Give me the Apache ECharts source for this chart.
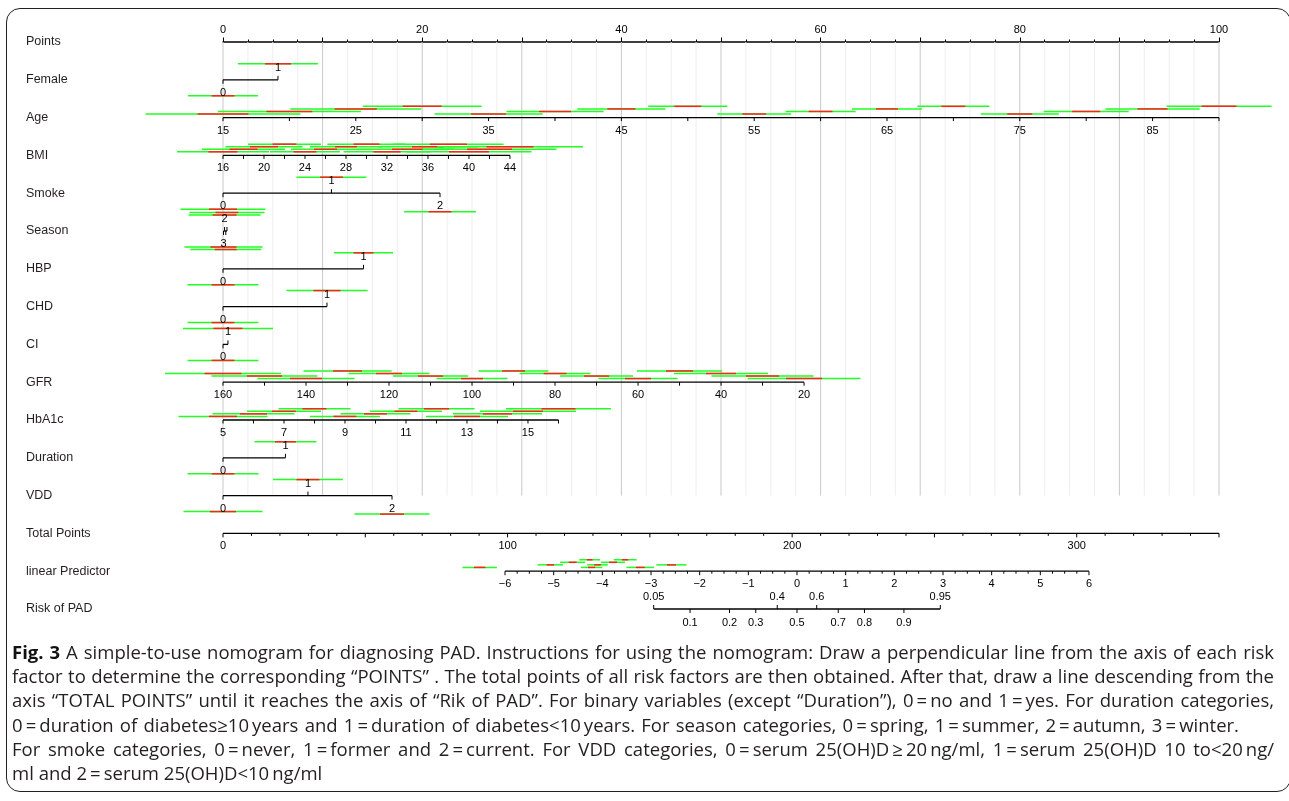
<!DOCTYPE html>
<html><head><meta charset="utf-8">
<script src="https://cdn.jsdelivr.net/npm/echarts@6/dist/echarts.min.js"></script>
<style>
html,body{margin:0;padding:0;background:#fff;}
#wrap{position:relative;width:1289px;height:801px;overflow:hidden;}
#chart{position:absolute;left:0;top:0;width:1289px;height:801px;}
#box{position:absolute;left:6px;top:8px;width:1285px;height:784px;border:1.6px solid #231f20;border-radius:14px;box-sizing:border-box;pointer-events:none;}
#caption{position:absolute;left:12px;top:640px;font-family:'Open Sans',Lato,sans-serif;font-size:16.5px;line-height:24.2px;color:#231f20;}
#caption div{white-space:nowrap;height:24.2px;}
#caption span.ln{display:inline-block;white-space:nowrap;}
#caption b{font-weight:700;color:#111;}
</style></head>
<body><div id="wrap"><div id="chart"></div><div id="box"></div>
<div id="caption">
<div data-w="1262"><span class="ln"><b>Fig. 3</b> A simple-to-use nomogram for diagnosing PAD. Instructions for using the nomogram: Draw a perpendicular line from the axis of each risk</span></div>
<div data-w="1262"><span class="ln">factor to determine the corresponding “POINTS” . The total points of all risk factors are then obtained. After that, draw a line descending from the</span></div>
<div data-w="1262"><span class="ln">axis “TOTAL POINTS” until it reaches the axis of “Rik of PAD”. For binary variables (except “Duration”), 0&#8201;=&#8201;no and 1&#8201;=&#8201;yes. For duration categories,</span></div>
<div data-w="1227"><span class="ln">0&#8201;=&#8201;duration of diabetes≥10&#8201;years and 1&#8201;=&#8201;duration of diabetes&lt;10&#8201;years. For season categories, 0&#8201;=&#8201;spring, 1&#8201;=&#8201;summer, 2&#8201;=&#8201;autumn, 3&#8201;=&#8201;winter.</span></div>
<div data-w="1262"><span class="ln">For smoke categories, 0&#8201;=&#8201;never, 1&#8201;=&#8201;former and 2&#8201;=&#8201;current. For VDD categories, 0&#8201;=&#8201;serum 25(OH)D&#8201;≥&#8201;20&#8201;ng/ml, 1&#8201;=&#8201;serum 25(OH)D 10 to&lt;20&#8201;ng/</span></div>
<div><span class="ln">ml and 2&#8201;=&#8201;serum 25(OH)D&lt;10&#8201;ng/ml</span></div>
</div></div>
<script>
// ---------------- data ----------------
const rowNames = ['Points','Female','Age','BMI','Smoke','Season','HBP','CHD','CI','GFR','HbA1c','Duration','VDD','Total Points','linear Predictor','Risk of PAD'];
const pointsGrid = [0,2.5,5,7.5,10,12.5,15,17.5,20,22.5,25,27.5,30,32.5,35,37.5,40,42.5,45,47.5,50,52.5,55,57.5,60,62.5,65,67.5,70,72.5,75,77.5,80,82.5,85,87.5,90,92.5,95,97.5,100];

// categorical variables: points per level, red (inner) and green (outer) half-widths in points
const femaleLevels = ['0','1'];
const femalePoints = [0, 5.52];
const femaleRed = [1.15, 1.31];
const femaleGreen = [3.51, 4.02];

const smokeLevels = ['0','1','2'];
const smokePoints = [0, 10.89, 21.79];
const smokeRed = [1.41, 1.15, 1.15];
const smokeGreen = [4.27, 3.51, 3.61];

const seasonLevels = ['0','1','2','3'];
const seasonPoints = [0.28, 0.40, 0.16, 0.05];
const seasonLabelShown = [false, false, true, true];
const seasonRed = [1.10, 1.15, 1.20, 1.31];
const seasonGreen = [3.56, 3.77, 3.61, 3.92];

const hbpLevels = ['0','1'];
const hbpPoints = [0, 14.11];
const hbpRed = [1.15, 1.00];
const hbpGreen = [3.56, 2.96];

const chdLevels = ['0','1'];
const chdPoints = [0, 10.44];
const chdRed = [1.15, 1.36];
const chdGreen = [3.56, 4.07];

const ciLevels = ['0','1'];
const ciPoints = [0, 0.50];
const ciRed = [1.15, 1.46];
const ciGreen = [3.56, 4.52];

const durationLevels = ['0','1'];
const durationPoints = [0, 6.27];
const durationRed = [1.15, 1.05];
const durationGreen = [3.56, 3.11];

const vddLevels = ['0','1','2'];
const vddPoints = [0, 8.53, 16.97];
const vddRed = [1.31, 1.15, 1.20];
const vddGreen = [3.97, 3.51, 3.77];

// continuous variables
const ageValues = [15,20,25,30,35,40,45,50,55,60,65,70,75,80,85,90];
const ageLabels = [15,25,35,45,55,65,75,85];
const ageRed = [2.56,2.31,2.11,1.96,1.76,1.61,1.41,1.36,1.20,1.20,1.10,1.20,1.26,1.41,1.51,1.76];
const ageGreen = [7.78,7.18,6.58,5.97,5.42,4.87,4.42,3.97,3.71,3.51,3.51,3.61,3.92,4.27,4.72,5.27];

const bmiValues = [16,18,20,22,24,26,28,30,32,34,36,38,40,42,44];
const bmiLabels = [16,20,24,28,32,36,40,44];
const bmiRed = [1.46,1.41,1.41,1.20,1.15,1.15,1.10,1.31,1.36,1.56,1.61,1.86,2.01,2.26,2.36];
const bmiGreen = [4.62,4.17,3.87,3.66,3.51,3.46,3.61,3.92,4.37,4.77,5.02,5.52,6.28,6.73,7.33];

const gfrValues = [160,150,140,130,120,110,100,90,80,70,60,50,40,30,20];
const gfrLabels = [160,140,120,100,80,60,40,20];
const gfrRed = [1.86,1.76,1.61,1.46,1.31,1.26,1.10,1.15,1.15,1.26,1.31,1.36,1.51,1.66,1.81];
const gfrGreen = [5.82,5.32,4.87,4.42,4.07,3.77,3.56,3.51,3.56,3.66,3.97,4.27,4.72,5.12,5.67];

const hbValues = [5,6,7,8,9,10,11,12,13,14,15,16];
const hbLabels = [5,7,9,11,13,15];
const hbRed = [1.41,1.36,1.20,1.20,1.15,1.15,1.15,1.26,1.31,1.46,1.51,1.71];
const hbGreen = [4.47,4.12,3.71,3.61,3.51,3.51,3.61,3.82,4.12,4.47,4.82,5.27];

const totalLabels = [0,100,200,300];
const totalMax = 350;

const lpLabels = [-6,-5,-4,-3,-2,-1,0,1,2,3,4,5,6];
const lpCenters = [-6.52,-5.07,-4.61,-4.26,-4.22,-4.10,-3.78,-3.53,-3.22,-2.58];
const lpRed = [0.58,0.38,0.40,0.28,0.36,0.33,0.41,0.32,0.45,0.46];
const lpGreen = [1.73,1.27,1.26,1.04,1.08,1.04,1.20,1.15,1.38,1.51];

const riskValues = [0.05,0.1,0.2,0.3,0.4,0.5,0.6,0.7,0.8,0.9,0.95];
const riskAbove = [0.05,0.4,0.6,0.95];

// ---------------- scales (value -> points) ----------------
const ageToPts = v => (v - 15) * 100 / 75;
const bmiToPts = v => (v - 16) * 1.029;
const gfrToPts = v => (160 - v) * 0.4167;
const hbToPts = v => (v - 5) * 3.062;
const totalToPts = t => t * 100 / totalMax;
const lpToPts = l => 57.63 + 4.886 * l;
const riskToPts = p => lpToPts(Math.log(p / (1 - p)));

// ---------------- build drawing items ----------------
const gridItems = pointsGrid.map(v => ({x: v, major: v % 10 === 0}));
const axisLines = [], ticks = [], labels = [], segs = [];
const R = name => rowNames.indexOf(name);

function addContinuous(name, values, labelVals, toPts, red, green) {
  const row = R(name);
  const pts = values.map(toPts);
  axisLines.push({a: Math.min(...pts), b: Math.max(...pts), row: row});
  pts.forEach(p => ticks.push({x: p, row: row, dir: 1, len: 3.5}));
  labelVals.forEach(v => labels.push({x: toPts(v), row: row, dy: 13, text: String(v)}));
  const order = values.map((v, i) => i).sort((i, j) => values[i] - values[j]);
  order.forEach((i, rank) => segs.push({c: pts[i], r: red[i], g: green[i], row: row, dy: -(3.6 + 2.55 * (rank % 4))}));
}
function addCategorical(name, levels, points, red, green, shown) {
  const row = R(name);
  axisLines.push({a: Math.min(...points), b: Math.max(...points), row: row});
  const order = points.map((v, i) => i).sort((i, j) => points[i] - points[j]);
  order.forEach((i, rank) => {
    const side = rank % 2 === 0 ? 1 : -1;
    const stack = Math.floor(rank / 2);
    ticks.push({x: points[i], row: row, dir: side, len: 4});
    if (!shown || shown[i]) labels.push({x: points[i], row: row, dy: side > 0 ? 13 : -12, text: levels[i]});
    segs.push({c: points[i], r: red[i], g: green[i], row: row, dy: side * (16 + 2.5 * stack)});
  });
}

addCategorical('Female', femaleLevels, femalePoints, femaleRed, femaleGreen);
addContinuous('Age', ageValues, ageLabels, ageToPts, ageRed, ageGreen);
addContinuous('BMI', bmiValues, bmiLabels, bmiToPts, bmiRed, bmiGreen);
addCategorical('Smoke', smokeLevels, smokePoints, smokeRed, smokeGreen);
addCategorical('Season', seasonLevels, seasonPoints, seasonRed, seasonGreen, seasonLabelShown);
addCategorical('HBP', hbpLevels, hbpPoints, hbpRed, hbpGreen);
addCategorical('CHD', chdLevels, chdPoints, chdRed, chdGreen);
addCategorical('CI', ciLevels, ciPoints, ciRed, ciGreen);
addContinuous('GFR', gfrValues, gfrLabels, gfrToPts, gfrRed, gfrGreen);
addContinuous('HbA1c', hbValues, hbLabels, hbToPts, hbRed, hbGreen);
addCategorical('Duration', durationLevels, durationPoints, durationRed, durationGreen);
addCategorical('VDD', vddLevels, vddPoints, vddRed, vddGreen);

// Total points axis
(function () {
  const row = R('Total Points');
  axisLines.push({a: totalToPts(0), b: totalToPts(totalMax), row: row});
  for (let t = 0; t <= totalMax; t += 10) ticks.push({x: totalToPts(t), row: row, dir: 1, len: t % 50 === 0 ? 4 : 2.5});
  totalLabels.forEach(t => labels.push({x: totalToPts(t), row: row, dy: 13, text: String(t)}));
})();
// Linear predictor axis
(function () {
  const row = R('linear Predictor');
  axisLines.push({a: lpToPts(lpLabels[0]), b: lpToPts(lpLabels[lpLabels.length - 1]), row: row});
  for (let l = lpLabels[0]; l <= lpLabels[lpLabels.length - 1] + 1e-9; l += 0.25) ticks.push({x: lpToPts(l), row: row, dir: 1, len: Math.abs(l - Math.round(l)) < 1e-6 ? 4 : 2.5});
  lpLabels.forEach(l => labels.push({x: lpToPts(l), row: row, dy: 13, text: (l < 0 ? '\u2212' + (-l) : String(l))}));
  const order = lpCenters.map((v, i) => i).sort((i, j) => lpCenters[i] - lpCenters[j]);
  order.forEach((i, rank) => segs.push({c: lpToPts(lpCenters[i]), r: lpRed[i], g: lpGreen[i], row: row, dy: -(3.8 + 2.55 * (rank % 4))}));
})();
// Risk axis
(function () {
  const row = R('Risk of PAD');
  axisLines.push({a: riskToPts(riskValues[0]), b: riskToPts(riskValues[riskValues.length - 1]), row: row});
  riskValues.forEach(p => {
    const up = riskAbove.indexOf(p) >= 0;
    ticks.push({x: riskToPts(p), row: row, dir: up ? -1 : 1, len: 4});
    labels.push({x: riskToPts(p), row: row, dy: up ? -12 : 14, text: String(p)});
  });
})();

// ---------------- chart ----------------
const FONT = '"Liberation Sans", Arial, Helvetica, sans-serif';
const chart = echarts.init(document.getElementById('chart'), null, {renderer: 'canvas'});
const lastGridRow = R('VDD');

chart.setOption({
  animation: false,
  backgroundColor: 'transparent',
  grid: {left: 223, right: 70, top: 42, bottom: 192, containLabel: false},
  xAxis: {
    type: 'value', min: 0, max: 100, interval: 10, position: 'top',
    axisLine: {show: true, lineStyle: {color: '#000', width: 1.5}},
    axisTick: {show: true, length: 4.5, lineStyle: {color: '#000', width: 1}},
    minorTick: {show: true, splitNumber: 4, length: 2.5, lineStyle: {color: '#000', width: 1}},
    axisLabel: {fontFamily: FONT, fontSize: 11, color: '#000', margin: 7, formatter: v => (v % 20 === 0 ? String(v) : '')},
    splitLine: {show: false}
  },
  yAxis: {
    type: 'category', inverse: true, boundaryGap: false, data: rowNames,
    axisLine: {show: false}, axisTick: {show: false}, splitLine: {show: false},
    axisLabel: {align: 'left', margin: 197, fontFamily: FONT, fontSize: 12.5, color: '#231f20'}
  },
  series: [
    {
      type: 'custom', name: 'grid', clip: false, z: 1,
      data: gridItems.map(g => [g.x, 0]),
      renderItem: (params, api) => {
        const g = gridItems[params.dataIndex];
        const top = api.coord([g.x, 0]);
        const bot = api.coord([g.x, lastGridRow]);
        return {type: 'line', shape: {x1: top[0], y1: top[1], x2: bot[0], y2: bot[1]},
          style: {stroke: g.major ? '#c9c9c9' : '#eeeeee', lineWidth: 1}};
      }
    },
    {
      type: 'custom', name: 'segments', clip: false, z: 3,
      data: segs.map(s => [s.c, s.row]),
      renderItem: (params, api) => {
        const s = segs[params.dataIndex];
        const y = api.coord([s.c, s.row])[1] + s.dy;
        const gl = api.coord([s.c - s.g, s.row])[0], gr = api.coord([s.c + s.g, s.row])[0];
        const rl = api.coord([s.c - s.r, s.row])[0], rr = api.coord([s.c + s.r, s.row])[0];
        return {type: 'group', children: [
          {type: 'line', shape: {x1: gl, y1: y, x2: gr, y2: y}, style: {stroke: '#22ff22', lineWidth: 1.5}},
          {type: 'line', shape: {x1: rl, y1: y, x2: rr, y2: y}, style: {stroke: '#ff2020', lineWidth: 1.5}}
        ]};
      }
    },
    {
      type: 'custom', name: 'axes', clip: false, z: 4,
      data: axisLines.map(a => [a.a, a.row]),
      renderItem: (params, api) => {
        const a = axisLines[params.dataIndex];
        const p1 = api.coord([a.a, a.row]), p2 = api.coord([a.b, a.row]);
        return {type: 'line', shape: {x1: p1[0], y1: p1[1], x2: p2[0], y2: p2[1]}, style: {stroke: '#000', lineWidth: 1.3}};
      }
    },
    {
      type: 'custom', name: 'ticks', clip: false, z: 4,
      data: ticks.map(t => [t.x, t.row]),
      renderItem: (params, api) => {
        const t = ticks[params.dataIndex];
        const p = api.coord([t.x, t.row]);
        return {type: 'line', shape: {x1: p[0], y1: p[1], x2: p[0], y2: p[1] + t.dir * t.len}, style: {stroke: '#000', lineWidth: 1}};
      }
    },
    {
      type: 'custom', name: 'labels', clip: false, z: 5,
      data: labels.map(l => [l.x, l.row]),
      renderItem: (params, api) => {
        const l = labels[params.dataIndex];
        const p = api.coord([l.x, l.row]);
        return {type: 'text', x: p[0], y: p[1] + l.dy,
          style: {text: l.text, fill: '#000', fontSize: 11, fontFamily: FONT, align: 'center', verticalAlign: 'middle'}};
      }
    }
  ]
});

// ---------------- caption: scale font so line 1 fills its width, then justify each line ----------------
function fitCaption() {
  const cap = document.getElementById('caption');
  const lines = Array.from(cap.querySelectorAll('div[data-w]'));
  lines.forEach(d => { d.querySelector('span.ln').style.wordSpacing = '0px'; });
  cap.style.fontSize = '16.5px';
  let maxRatio = 0;
  lines.forEach(d => {
    const w = d.querySelector('span.ln').getBoundingClientRect().width;
    maxRatio = Math.max(maxRatio, w / parseFloat(d.getAttribute('data-w')));
  });
  const size = 16.5 / maxRatio * 0.99;
  cap.style.fontSize = size.toFixed(2) + 'px';
  lines.forEach(d => {
    const span = d.querySelector('span.ln');
    const target = parseFloat(d.getAttribute('data-w'));
    const natural = span.getBoundingClientRect().width;
    const spaces = (span.textContent.match(/ /g) || []).length;
    if (spaces > 0) span.style.wordSpacing = ((target - natural) / spaces).toFixed(3) + 'px';
  });
}
fitCaption();
if (document.fonts && document.fonts.ready) document.fonts.ready.then(fitCaption);
</script>
</body></html>
